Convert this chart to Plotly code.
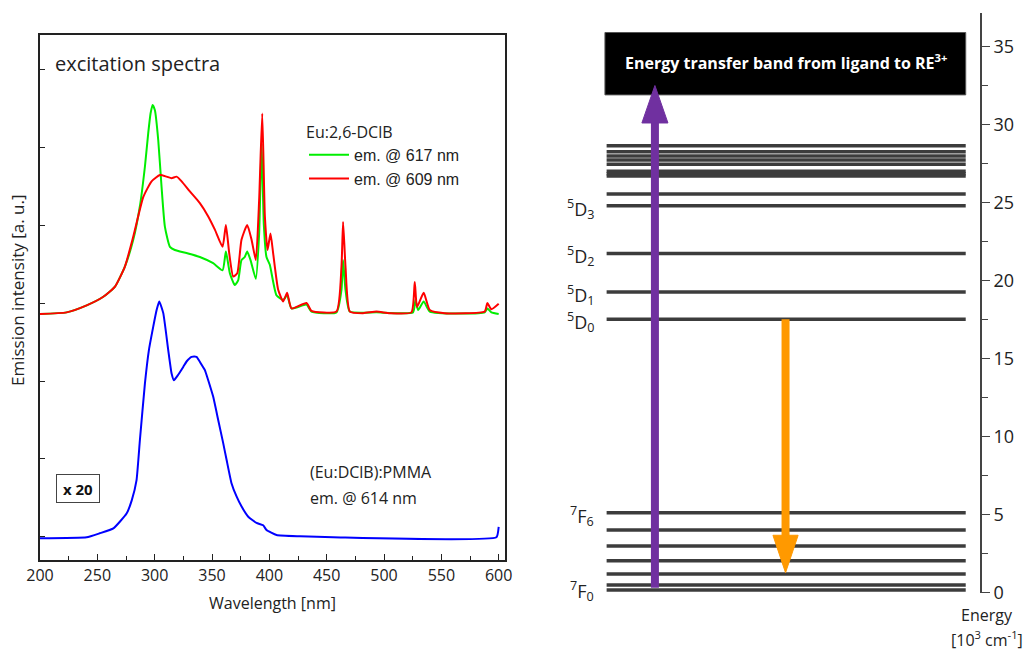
import plotly.graph_objects as go

W, H = 1032, 651

# ---------------- data: excitation spectra ----------------
green_nm = [200, 223.2, 240.7, 255.2, 265.4, 274.1, 281.3, 287.1, 291.5, 294.4, 296.4, 298.2,
            300.2, 303.1, 306, 308.9, 313.3, 317.6, 327.8, 339.4, 351, 359.2, 362.1, 365.6,
            369.9, 372.8, 375.7, 378.6, 380.7, 383.6, 388.2, 391.1, 393.2, 395.2, 397.5, 400.4,
            406.2, 412.1, 415.5, 419.3, 432.4, 436.7, 458.5, 462.9, 464.3, 466.4, 470.2, 493.4,
            525.3, 527.4, 529.7, 534.6, 539.9, 587.8, 590.1, 593.6, 600]
green_int = [2.86, 2.88, 2.97, 3.08, 3.21, 3.47, 3.81, 4.24, 4.75, 5.18, 5.43, 5.54,
             5.47, 5.09, 4.49, 3.98, 3.72, 3.68, 3.64, 3.59, 3.51, 3.42, 3.66, 3.38,
             3.23, 3.29, 3.55, 3.59, 3.66, 3.55, 3.31, 3.89, 5.05, 4.00, 3.59, 3.49,
             3.10, 3.04, 3.10, 2.93, 2.98, 2.89, 2.88, 3.17, 3.55, 3.17, 2.89, 2.88,
             2.88, 3.04, 2.91, 3.02, 2.89, 2.88, 2.93, 2.88, 2.86]

red_nm = [200, 223.2, 240.7, 255.2, 265.4, 274.1, 281.3, 290.1, 297.3, 304.6, 310.4, 314.7,
          319.1, 323.5, 330.7, 339.4, 346.7, 352.5, 359.2, 362.1, 365, 368.5, 372, 375.7,
          380.7, 384.5, 388.2, 391.1, 393.8, 396.1, 398.4, 401, 403.3, 407.7, 412.1, 415.5,
          419.3, 432.4, 436.7, 458.5, 462.9, 464.3, 466.4, 470.2, 481.8, 493.4, 505, 523.9,
          526.8, 528.8, 534.6, 539.9, 552.9, 587.8, 590.1, 593.6, 600]
red_int = [2.86, 2.88, 2.97, 3.08, 3.21, 3.47, 3.85, 4.36, 4.56, 4.64, 4.62, 4.60,
           4.62, 4.56, 4.43, 4.28, 4.11, 3.94, 3.72, 4.00, 3.64, 3.34, 3.38, 3.81,
           4.00, 3.81, 3.55, 4.32, 5.43, 4.11, 3.68, 3.89, 3.64, 3.17, 3.02, 3.13,
           2.93, 3.00, 2.90, 2.89, 3.47, 4.04, 3.47, 2.89, 2.87, 2.89, 2.87, 2.88,
           3.27, 2.95, 3.13, 2.91, 2.87, 2.89, 3.00, 2.92, 2.99]

blue_nm = [200, 240.7, 252, 264, 275.5, 280, 284.2, 287.1, 291.5, 295, 298.8, 301.7, 304,
           307.5, 311.8, 314.7, 316.8, 320.5, 324.9, 327.8, 332.2, 336.5, 340.9, 343.8,
           346.7, 351, 355.4, 359.8, 362.7, 367, 371.4, 375.8, 381.6, 388.8, 394.6, 397.5,
           406.3, 426.6, 455.6, 598, 600]
blue_int = [-0.017, -0.004, 0.047, 0.11, 0.30, 0.47, 0.73, 1.24, 1.97, 2.40, 2.70, 2.91, 3.02,
            2.87, 2.40, 2.10, 2.01, 2.08, 2.18, 2.25, 2.31, 2.31, 2.21, 2.14,
            2.01, 1.80, 1.50, 1.20, 0.99, 0.69, 0.52, 0.39, 0.26, 0.18, 0.15, 0.09,
            0.026, 0.009, -0.004, -0.004, 0.13]

x_ticks = [200, 250, 300, 350, 400, 450, 500, 550, 600]

# ---------------- data: energy level diagram (10^3 cm^-1) ----------------
levels = [28.64, 28.26, 27.98, 27.72, 27.45, 27.0, 26.85, 26.7, 25.54, 24.8,
          21.74, 19.26, 17.51, 5.12, 4.0, 2.98, 2.04, 1.19, 0.48, 0.16]
level_labels = ["<sup>5</sup>D<sub>3</sub>", "<sup>5</sup>D<sub>2</sub>", "<sup>5</sup>D<sub>1</sub>",
                "<sup>5</sup>D<sub>0</sub>", "<sup>7</sup>F<sub>6</sub>", "<sup>7</sup>F<sub>0</sub>"]
level_label_energy = [24.8, 21.74, 19.26, 17.51, 5.12, 0.32]
band_low, band_high = 31.9, 35.9
excitation = (0.3, 32.5)
emission = (17.51, 1.27)
energy_ticks = [0, 5, 10, 15, 20, 25, 30, 35]

# ---------------- layout geometry (pixels) ----------------
def fx(p):
    return p / W

def fy(p):
    return 1 - p / H

L_X0, L_X1, L_Y0, L_Y1 = 40, 505, 35, 560
R_X0, R_X1, R_Y0, R_Y1 = 560, 980, 13, 592.5

fig = go.Figure()

fig.add_trace(go.Scatter(x=green_nm, y=green_int, mode="lines", name="em. @ 617 nm",
                         line=dict(color="#00ee00", width=2, shape="spline", smoothing=0.5),
                         xaxis="x", yaxis="y"))
fig.add_trace(go.Scatter(x=red_nm, y=red_int, mode="lines", name="em. @ 609 nm",
                         line=dict(color="#ff0000", width=2, shape="spline", smoothing=0.5),
                         xaxis="x", yaxis="y"))
fig.add_trace(go.Scatter(x=blue_nm, y=blue_int, mode="lines", name="(Eu:DClB):PMMA",
                         line=dict(color="#0000ff", width=2, shape="spline", smoothing=0.4),
                         showlegend=False, xaxis="x", yaxis="y"))

# energy levels
LV_X0, LV_X1 = 0.111, 0.966
lx, ly = [], []
for e in levels:
    lx += [LV_X0, LV_X1, None]
    ly += [e, e, None]
fig.add_trace(go.Scatter(x=lx, y=ly, mode="lines", line=dict(color="#3c3c3c", width=3.5),
                         showlegend=False, xaxis="x2", yaxis="y2", hoverinfo="skip"))

shapes = []
# ligand band box
shapes.append(dict(type="rect", xref="x2", yref="y2", x0=0.107, x1=0.966,
                   y0=band_low, y1=band_high, fillcolor="black", line=dict(color="#555", width=1)))

def arrow(xc, e0, e1, color, halfw=0.031, head=2.4, shaft=8):
    d = 1 if e1 > e0 else -1
    base = e1 - d * head
    s = [dict(type="line", xref="x2", yref="y2", x0=xc, x1=xc, y0=e0, y1=base + d * 0.2,
              line=dict(color=color, width=shaft)),
         dict(type="path", xref="x2", yref="y2",
              path=f"M {xc-halfw},{base} L {xc+halfw},{base} L {xc},{e1} Z",
              fillcolor=color, line=dict(color=color, width=1))]
    return s

shapes += arrow(0.226, excitation[0], excitation[1], "#7030a0")
shapes += arrow(0.537, emission[0], emission[1], "#ff9900", halfw=0.03)

annotations = [
    dict(text="excitation spectra", x=fx(53), y=fy(63), xref="paper", yref="paper",
         xanchor="left", yanchor="middle", showarrow=False,
         font=dict(family="Open Sans", size=20, color="#222")),
    dict(text="Emission intensity [a. u.]", x=fx(18), y=fy(290), xref="paper", yref="paper",
         textangle=-90, xanchor="center", yanchor="middle", showarrow=False,
         font=dict(family="Open Sans", size=17, color="#222")),
    dict(text="Wavelength [nm]", x=fx(272), y=fy(603), xref="paper", yref="paper",
         xanchor="center", yanchor="middle", showarrow=False,
         font=dict(family="Open Sans", size=16, color="#222")),
    dict(text="(Eu:DClB):PMMA", x=fx(308), y=fy(472), xref="paper", yref="paper",
         xanchor="left", yanchor="middle", showarrow=False,
         font=dict(family="Open Sans", size=16, color="#222")),
    dict(text="em. @ 614 nm", x=fx(308), y=fy(498), xref="paper", yref="paper",
         xanchor="left", yanchor="middle", showarrow=False,
         font=dict(family="Open Sans", size=16, color="#222")),
    dict(text="<b>x 20</b>", x=fx(78), y=fy(488), xref="paper", yref="paper",
         xanchor="center", yanchor="middle", showarrow=False, width=40, height=25,
         bordercolor="#444", borderwidth=1, borderpad=1,
         font=dict(family="Open Sans", size=15, color="#111")),
    dict(text="<b>Energy transfer band from ligand to RE<sup>3+</sup></b>", x=0.537,
         y=(band_low + band_high) / 2 + 0.1, xref="x2", yref="y2",
         xanchor="center", yanchor="middle", showarrow=False,
         font=dict(family="Open Sans", size=16, color="white")),
    dict(text="Energy", x=fx(987), y=fy(615), xref="paper", yref="paper",
         xanchor="center", yanchor="middle", showarrow=False,
         font=dict(family="Open Sans", size=16, color="#222")),
    dict(text="[10<sup>3</sup> cm<sup>-1</sup>]", x=fx(987), y=fy(639), xref="paper", yref="paper",
         xanchor="center", yanchor="middle", showarrow=False,
         font=dict(family="Open Sans", size=16, color="#222")),
]
for lab, e in zip(level_labels, level_label_energy):
    annotations.append(dict(text=lab, x=fx(596), y=e, xref="paper", yref="y2",
                            xanchor="right", yanchor="middle", yshift=-3, showarrow=False,
                            font=dict(family="Open Sans", size=18, color="#222")))

fig.update_layout(
    width=W, height=H, margin=dict(l=0, r=0, t=0, b=0, autoexpand=False),
    paper_bgcolor="white", plot_bgcolor="white",
    showlegend=True,
    legend=dict(x=fx(304), y=fy(117), xanchor="left", yanchor="top",
                bgcolor="rgba(0,0,0,0)", borderwidth=0, tracegroupgap=0,
                title=dict(text="Eu:2,6-DClB", font=dict(family="Open Sans", size=16, color="#222")),
                font=dict(family="Liberation Sans", size=16, color="#222"),
                itemwidth=40),
    xaxis=dict(domain=[fx(L_X0), fx(L_X1)], range=[200, 605.5], tickvals=x_ticks,
               ticks="inside", ticklen=6, tickwidth=1.2, tickcolor="#222",
               minor=dict(dtick=25, tick0=200, ticks="inside", ticklen=4, tickcolor="#222"),
               showline=True, linecolor="#222", linewidth=1.6, mirror=True,
               showgrid=False, zeroline=False, anchor="y", automargin=False,
               tickfont=dict(family="Open Sans", size=16, color="#222")),
    yaxis=dict(domain=[fy(L_Y1), fy(L_Y0)], range=[-0.295, 6.436], tickvals=[0, 1, 2, 3, 4, 5, 6],
               ticks="inside", ticklen=5, tickwidth=1.2, tickcolor="#222", showticklabels=False,
               showline=True, linecolor="#222", linewidth=1.6, mirror=True,
               showgrid=False, zeroline=False, anchor="x", automargin=False),
    xaxis2=dict(domain=[fx(R_X0), fx(R_X1)], range=[0, 1], visible=False, anchor="y2",
                automargin=False),
    yaxis2=dict(domain=[fy(R_Y1), fy(R_Y0)], range=[0, 37.15], side="right", anchor="x2",
                tickvals=energy_ticks, ticks="outside", ticklen=8, tickwidth=1.2,
                tickcolor="#444", automargin=False,
                minor=dict(dtick=2.5, tick0=0, ticks="outside", ticklen=6, tickcolor="#444"),
                showline=True, linecolor="#444", linewidth=1.6, showgrid=False, zeroline=False,
                tickfont=dict(family="Open Sans", size=18, color="#222")),
    shapes=shapes, annotations=annotations,
)

fig.write_html("out.html", config={"displayModeBar": False})
